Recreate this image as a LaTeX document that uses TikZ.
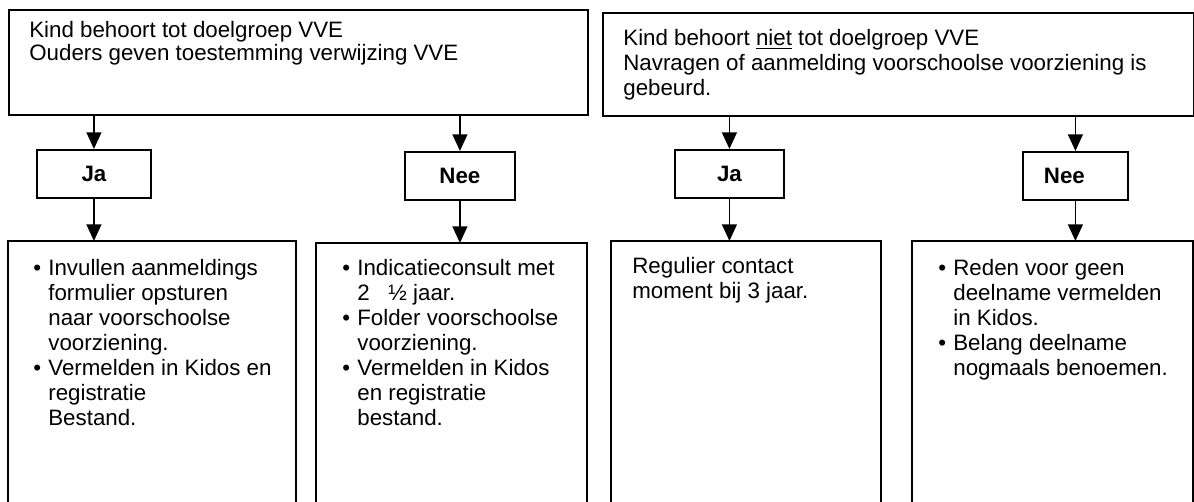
\documentclass[tikz,border=0pt]{standalone}
\usepackage{fontspec}
\setmainfont{Liberation Sans}
\usetikzlibrary{arrows.meta}

\newlength{\unitpx}
\setlength{\unitpx}{0.538pt}
\newcommand{\punt}{\makebox[15\unitpx][l]{\textbullet}}
\newcommand{\inspr}{\hspace*{15\unitpx}}

\tikzset{
	kader/.style={draw, line width=1pt, inner sep=0pt, anchor=north west},
	vak/.style={inner sep=0pt, anchor=north west},
	keuze/.style={kader, font=\fontsize{12}{13.45}\selectfont\bfseries, minimum height=48\unitpx},
	tekst/.style={inner sep=0pt, anchor=north west, align=left},
	pijl/.style={line width=1pt, -{Triangle[length=9pt,width=8pt]}}
}

\begin{document}
\begin{tikzpicture}[x=0.538pt, y=-0.538pt, font=\fontsize{12}{13.45}\selectfont]
	\useasboundingbox (0,0) rectangle (1194,502);
	
	% Draw the two starting boxes
	\node[kader, minimum width=579\unitpx, minimum height=105\unitpx] (doel) at (8,9) {};
	\node[kader, minimum width=591\unitpx, minimum height=103\unitpx] (geen) at (602,12) {};
	\node[tekst] (doeltxt) at (29,21) {Kind behoort tot doelgroep VVE\\[-1pt]Ouders geven toestemming verwijzing VVE};
	\node[tekst] (geentxt) at (623,29) {Kind behoort \underline{niet} tot doelgroep VVE\\Navragen of aanmelding voorschoolse voorziening is\\gebeurd.};
	
	% Draw the Ja / Nee boxes
	\node[keuze, minimum width=114\unitpx] (ja1) at (36,149) {Ja};
	\node[keuze, minimum width=110\unitpx] (nee1) at (404,151) {Nee};
	\node[keuze, minimum width=109\unitpx] (ja2) at (674,149) {Ja};
	\node[keuze, minimum width=105\unitpx, text width=63\unitpx, align=left] (nee2) at (1022,151) {Nee};
	
	% Draw the action boxes (open at the bottom)
	\node[vak, minimum width=287\unitpx, minimum height=261\unitpx] (act1) at (8,241) {};
	\node[vak, minimum width=270\unitpx, minimum height=259\unitpx] (act2) at (316,243) {};
	\node[vak, minimum width=269\unitpx, minimum height=261\unitpx] (act3) at (611,241) {};
	\node[vak, minimum width=280\unitpx, minimum height=261\unitpx] (act4) at (912,241) {};
	\foreach \b in {act1,act2,act3,act4}
		\draw[line width=1pt] (\b.south west) |- (\b.north east) -- (\b.south east);
	
	% Draw the texts of the action boxes
	\node[tekst] (act1txt) at (33,259) {\punt Invullen aanmeldings\\\inspr formulier opsturen\\\inspr naar voorschoolse\\\inspr voorziening.\\\punt Vermelden in Kidos en\\\inspr registratie\\\inspr Bestand.};
	\node[tekst] (act2txt) at (342,259) {\punt Indicatieconsult met\\\inspr 2\hspace{10pt}½ jaar.\\\punt Folder voorschoolse\\\inspr voorziening.\\\punt Vermelden in Kidos\\\inspr en registratie\\\inspr bestand.};
	\node[tekst] (act3txt) at (632,257) {Regulier contact\\moment bij 3 jaar.};
	\node[tekst] (act4txt) at (938,259) {\punt Reden voor geen\\\inspr deelname vermelden\\\inspr in Kidos.\\\punt Belang deelname\\\inspr nogmaals benoemen.};
	
	% Draw the arrows
	\draw[pijl] (ja1.north |- doel.south) -- (ja1.north);
	\draw[pijl] (nee1.north |- doel.south) -- (nee1.north);
	\draw[pijl] (ja2.north |- geen.south) -- (ja2.north);
	\draw[pijl] (nee2.north |- geen.south) -- (nee2.north);
	\draw[pijl] (ja1.south) -- (ja1.south |- act1.north);
	\draw[pijl] (nee1.south) -- (nee1.south |- act2.north);
	\draw[pijl] (ja2.south) -- (ja2.south |- act3.north);
	\draw[pijl] (nee2.south) -- (nee2.south |- act4.north);
	
\end{tikzpicture}
\end{document}
